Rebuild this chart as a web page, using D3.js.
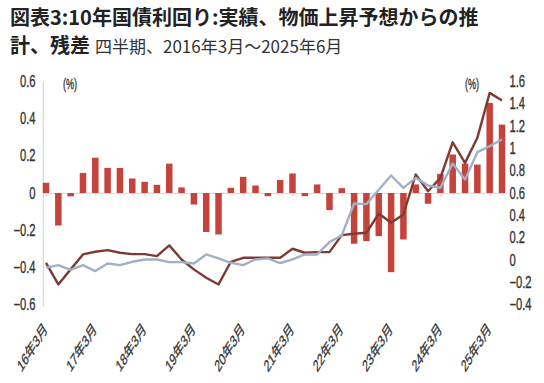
<!DOCTYPE html>
<html><head><meta charset="utf-8">
<script src="https://cdn.jsdelivr.net/npm/d3@7"></script>
<style>
html,body{margin:0;padding:0;background:#fff;}
svg{display:block;}
</style></head>
<body>
<svg id="c" width="544" height="383"></svg>
<script>
const categories = ["16年3月","16年6月","16年9月","16年12月","17年3月","17年6月","17年9月","17年12月",
"18年3月","18年6月","18年9月","18年12月","19年3月","19年6月","19年9月","19年12月",
"20年3月","20年6月","20年9月","20年12月","21年3月","21年6月","21年9月","21年12月",
"22年3月","22年6月","22年9月","22年12月","23年3月","23年6月","23年9月","23年12月",
"24年3月","24年6月","24年9月","24年12月","25年3月","25年6月"];
// 残差 (left axis)
const residual = [0.055,-0.175,-0.018,0.108,0.19,0.135,0.135,0.078,0.06,0.044,0.158,0.03,
-0.062,-0.21,-0.223,0.028,0.087,0.04,-0.017,0.07,0.105,-0.017,0.046,-0.092,0.026,-0.273,
-0.259,-0.232,-0.426,-0.25,0.046,-0.058,0.103,0.207,0.158,0.153,0.485,0.368];
// 実績 (right axis)
const actual = [-0.026,-0.22,-0.085,0.049,0.073,0.088,0.064,0.052,0.052,0.034,0.13,0.004,
-0.085,-0.16,-0.22,-0.017,0.019,0.019,0.019,0.019,0.10,0.064,0.07,0.07,0.222,0.234,
0.243,0.416,0.333,0.407,0.766,0.616,0.736,1.055,0.87,1.095,1.498,1.43];
// 物価上昇予想からの推計 (right axis)
const estimate = [-0.07,-0.047,-0.09,-0.047,-0.1,-0.032,-0.047,-0.017,0.004,0.004,-0.02,-0.02,
-0.032,0.049,0.013,-0.026,-0.047,0.004,0.013,-0.028,0.004,0.049,0.049,0.16,0.22,0.506,
0.5,0.63,0.757,0.646,0.736,0.667,0.646,0.864,0.72,0.966,1.02,1.08];
const leftTicks = [-0.6,-0.4,-0.2,0,0.2,0.4,0.6];
const rightTicks = [-0.4,-0.2,0,0.2,0.4,0.6,0.8,1,1.2,1.4,1.6];
const xTickLabels = categories.filter(c => c.endsWith("年3月"));
const titleLine1 = "図表3:10年国債利回り:実績、物価上昇予想からの推";
const titleLine2 = "計、残差";
const subtitle = "四半期、2016年3月～2025年6月";

const svg = d3.select("#c");
const plotTop = 81.5, plotBottom = 304.5;
const x = d3.scalePoint().domain(categories).range([46, 502]);
const yL = d3.scaleLinear().domain([-0.6, 0.6]).range([plotBottom, plotTop]);
const yR = d3.scaleLinear().domain([-0.4, 1.6]).range([plotBottom, plotTop]);
const fmt = v => { const r = Math.round(v*10)/10; return (r < 0 ? "\u2212" : "") + String(Math.abs(r)); };
const SX = 0.7;
const numFont = "'Liberation Sans', Arial, 'Noto Sans CJK JP', sans-serif";
const cjkFont = "'Noto Sans CJK JP', 'Noto Sans', sans-serif";
const txt = "#333";

// title
svg.append("text").attr("x", 10).attr("y", 25)
  .attr("font-family", cjkFont).attr("font-size", 20).attr("font-weight", "bold").attr("fill", "#222")
  .text(titleLine1);
const t2 = svg.append("text").attr("x", 10).attr("y", 53).attr("font-family", cjkFont).attr("fill", "#222");
t2.append("tspan").attr("font-size", 20).attr("font-weight", "bold").text(titleLine2);
t2.append("tspan").attr("font-size", 17).attr("dx", 5).attr("fill", "#333").text(subtitle);

// left axis line
svg.append("line").attr("x1", 43.3).attr("x2", 43.3).attr("y1", plotTop).attr("y2", plotBottom + 2)
  .attr("stroke", "#cfcfcf").attr("stroke-width", 1);

function styleNum(sel, size) {
  sel.attr("font-family", numFont).attr("font-size", size).attr("fill", txt)
     .attr("stroke", txt).attr("stroke-width", 0.35);
}

// left axis labels
const gL = svg.append("g").attr("transform", "translate(35.5,0)")
  .call(d3.axisLeft(yL).tickValues(leftTicks).tickSize(0).tickPadding(0).tickFormat(fmt));
gL.select(".domain").remove();
gL.selectAll("text").attr("x", 0).attr("transform", "scale(" + SX + ",1)").call(styleNum, 16);

// right axis labels
const gR = svg.append("g").attr("transform", "translate(509.5,0)")
  .call(d3.axisRight(yR).tickValues(rightTicks).tickSize(0).tickPadding(0).tickFormat(fmt));
gR.select(".domain").remove();
gR.selectAll("text").attr("x", 0).attr("transform", "scale(" + SX + ",1)").call(styleNum, 16);

// unit labels
[[70, "(%)"], [472, "(%)"]].forEach(([ux, s]) => {
  svg.append("text").attr("transform", `translate(${ux},89) scale(0.65,1)`)
    .attr("text-anchor", "middle").text(s).call(styleNum, 14);
});

// zero line with ticks
const gZ = svg.append("g").attr("transform", `translate(0,${yL(0)})`)
  .call(d3.axisBottom(x).tickValues(xTickLabels).tickSize(4).tickFormat(""));
gZ.select(".domain").attr("d", `M43.3,0.5H506`).attr("stroke", "#e6d6d6");
gZ.selectAll(".tick line").attr("stroke", "#e6d6d6");

// bars
const bw = 6.5;
svg.append("g").selectAll("rect").data(residual).join("rect")
  .attr("x", (d, i) => x(categories[i]) - bw/2)
  .attr("width", bw)
  .attr("y", d => Math.min(yL(d), yL(0)))
  .attr("height", d => Math.abs(yL(d) - yL(0)))
  .attr("fill", "#c4433b");

// lines
const line = d3.line().x((d, i) => x(categories[i])).y(d => yR(d));
svg.append("path").datum(actual).attr("d", line).attr("fill", "none")
  .attr("stroke", "#7d3b34").attr("stroke-width", 2.4).attr("stroke-linejoin", "round");
svg.append("path").datum(estimate).attr("d", line).attr("fill", "none")
  .attr("stroke", "#a0b0c6").attr("stroke-width", 2.4).attr("stroke-linejoin", "round");

// x labels
const gX = svg.append("g").attr("transform", "translate(0,326)")
  .call(d3.axisBottom(x).tickValues(xTickLabels).tickSize(0).tickPadding(0));
gX.select(".domain").remove();
gX.selectAll("text").attr("y", 0).attr("dy", "0.35em").attr("x", 0)
  .attr("text-anchor", "end")
  .attr("transform", `translate(-1,0) scale(0.62,1) rotate(-45)`)
  .call(styleNum, 16.5);
</script>
</body></html>
